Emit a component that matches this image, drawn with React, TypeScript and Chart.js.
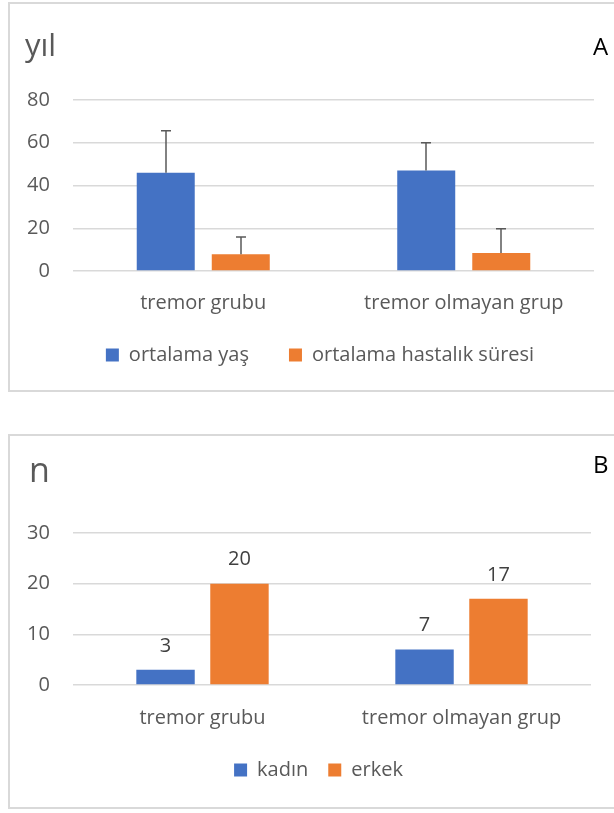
import React, { useEffect, useRef } from "react";
import { Chart, registerables } from "chart.js";

Chart.register(...registerables);

// ---------- Data ----------
const categories = ["tremor grubu", "tremor olmayan grup"];

// Chart A (yıl)
const seriesANames = ["ortalama yaş", "ortalama hastalık süresi"];
const meanAge = [46, 47];
const meanAgeSd = [19.6, 13];
const meanDuration = [7.8, 8.4];
const meanDurationSd = [8.1, 11.4];
const ticksA = [0, 20, 40, 60, 80];

// Chart B (n)
const seriesBNames = ["kadın", "erkek"];
const female = [3, 7];
const male = [20, 17];
const ticksB = [0, 10, 20, 30];

// ---------- Styles ----------
const BLUE = "#4472C4";
const ORANGE = "#ED7D31";
const GRID = "#D9D9D9";
const TEXT = "#595959";
const FONT = "'Open Sans', sans-serif";

const errorBarPlugin = {
  id: "errorBars",
  afterDatasetsDraw(chart: any, _args: any, opts: any) {
    const errs = opts && opts.errors;
    if (!errs) return;
    const ctx = chart.ctx;
    const yScale = chart.scales.y;
    ctx.save();
    ctx.strokeStyle = opts.color || TEXT;
    ctx.lineWidth = opts.lineWidth || 1.5;
    chart.data.datasets.forEach((ds: any, di: number) => {
      const meta = chart.getDatasetMeta(di);
      meta.data.forEach((bar: any, i: number) => {
        const top = yScale.getPixelForValue(ds.data[i] + errs[di][i]);
        const x = Math.round(bar.x);
        ctx.beginPath();
        ctx.moveTo(x, bar.y);
        ctx.lineTo(x, top);
        ctx.moveTo(x - opts.cap, top);
        ctx.lineTo(x + opts.cap, top);
        ctx.stroke();
      });
    });
    ctx.restore();
  },
};

const valueLabelPlugin = {
  id: "valueLabels",
  afterDatasetsDraw(chart: any, _args: any, opts: any) {
    if (!opts || !opts.show) return;
    const ctx = chart.ctx;
    ctx.save();
    ctx.font = `${opts.size}px ${FONT}`;
    ctx.fillStyle = opts.color;
    ctx.textAlign = "center";
    ctx.textBaseline = "middle";
    chart.data.datasets.forEach((ds: any, di: number) => {
      const meta = chart.getDatasetMeta(di);
      meta.data.forEach((bar: any, i: number) => {
        ctx.fillText(String(ds.data[i]), bar.x, bar.y - opts.offset);
      });
    });
    ctx.restore();
  },
};

const cornerTextPlugin = {
  id: "cornerText",
  afterDraw(chart: any, _args: any, opts: any) {
    if (!opts) return;
    const ctx = chart.ctx;
    ctx.save();
    ctx.textBaseline = "middle";
    ctx.textAlign = "left";
    ctx.font = `${opts.unitSize}px ${FONT}`;
    ctx.fillStyle = TEXT;
    ctx.fillText(opts.unit, opts.unitX, opts.unitY);
    ctx.font = `${opts.letterSize}px ${FONT}`;
    ctx.fillStyle = "#000000";
    ctx.fillText(opts.letter, opts.letterX, opts.letterY);
    ctx.restore();
  },
};

function makeConfig(p: any) {
  return {
    type: "bar",
    data: {
      labels: categories,
      datasets: p.datasets,
    },
    plugins: [errorBarPlugin, valueLabelPlugin, cornerTextPlugin],
    options: {
      responsive: false,
      animation: false,
      devicePixelRatio: 1,
      layout: { padding: p.padding },
      datasets: {
        bar: {
          categoryPercentage: p.catPct,
          barPercentage: p.barPct,
        },
      },
      scales: {
        x: {
          grid: { display: false, drawTicks: false },
          border: { display: false },
          afterFit: (scale: any) => {
            scale.height = p.xHeight;
          },
          ticks: {
            color: TEXT,
            font: { family: FONT, size: 20 },
            mirror: true,
            padding: p.xPad,
            maxRotation: 0,
            autoSkip: false,
          },
        },
        y: {
          min: 0,
          max: p.max,
          afterBuildTicks: (scale: any) => {
            scale.ticks = p.ticks.map((v: number) => ({ value: v }));
          },
          afterFit: (scale: any) => {
            scale.width = p.yWidth;
          },
          grid: {
            color: GRID,
            lineWidth: 1.5,
            drawTicks: false,
            tickLength: 0,
          },
          border: { display: false },
          ticks: {
            color: TEXT,
            font: { family: FONT, size: 20 },
            mirror: true,
            crossAlign: "far",
            padding: -46,
          },
        },
      },
      plugins: {
        legend: {
          position: "bottom",
          labels: {
            color: TEXT,
            font: { family: FONT, size: 20 },
            boxWidth: 13,
            boxHeight: 13,
            padding: p.legendPad,
          },
        },
        tooltip: { enabled: false },
        errorBars: p.errorBars,
        valueLabels: p.valueLabels,
        cornerText: p.corner,
      },
    },
  };
}

const CANVAS_W = 640;

function ChartCanvas(props: { config: any; top: number; height: number }) {
  const ref = useRef<HTMLCanvasElement | null>(null);
  useEffect(() => {
    if (!ref.current) return;
    const chart = new Chart(ref.current, props.config);
    return () => chart.destroy();
  }, []);
  return (
    <canvas
      ref={ref}
      width={CANVAS_W}
      height={props.height}
      style={{
        position: "absolute",
        left: 0,
        top: props.top,
        width: CANVAS_W,
        height: props.height,
      }}
    />
  );
}

const configA = makeConfig({
  datasets: [
    { label: seriesANames[0], data: meanAge, backgroundColor: BLUE },
    { label: seriesANames[1], data: meanDuration, backgroundColor: ORANGE },
  ],
  padding: { top: 100, right: 46, left: 46, bottom: 45 },
  yWidth: 27,
  xHeight: 34,
  catPct: 0.576,
  barPct: 0.773,
  max: 80,
  ticks: ticksA,
  xPad: -44,
  legendPad: 40,
  errorBars: { errors: [meanAgeSd, meanDurationSd], cap: 5, color: "#595959", lineWidth: 1.5 },
  valueLabels: { show: false },
  corner: {
    unit: "yıl",
    unitSize: 31,
    unitX: 25,
    unitY: 47,
    letter: "A",
    letterSize: 24,
    letterX: 593,
    letterY: 48,
  },
});

const configB = makeConfig({
  datasets: [
    { label: seriesBNames[0], data: female, backgroundColor: BLUE },
    { label: seriesBNames[1], data: male, backgroundColor: ORANGE },
  ],
  padding: { top: 113, right: 49, left: 46, bottom: 23 },
  yWidth: 27,
  xHeight: 55,
  catPct: 0.571,
  barPct: 0.79,
  max: 30,
  ticks: ticksB,
  xPad: -45,
  legendPad: 20,
  errorBars: { errors: null },
  valueLabels: { show: true, size: 20, color: "#404040", offset: 24 },
  corner: {
    unit: "n",
    unitSize: 34,
    unitX: 29,
    unitY: 52,
    letter: "B",
    letterSize: 24,
    letterX: 593,
    letterY: 46,
  },
});

export default function App() {
  return (
    <div
      style={{
        position: "absolute",
        left: 0,
        top: 0,
        width: 614,
        height: 813,
        overflow: "hidden",
        background: "#ffffff",
      }}
    >
      <div
        style={{
          position: "absolute",
          left: 8,
          top: 2,
          width: 640,
          height: 386,
          border: "2px solid #D9D9D9",
        }}
      />
      <div
        style={{
          position: "absolute",
          left: 8,
          top: 434,
          width: 640,
          height: 371,
          border: "2px solid #D9D9D9",
        }}
      />
      <ChartCanvas config={configA} top={0} height={420} />
      <ChartCanvas config={configB} top={420} height={393} />
    </div>
  );
}
